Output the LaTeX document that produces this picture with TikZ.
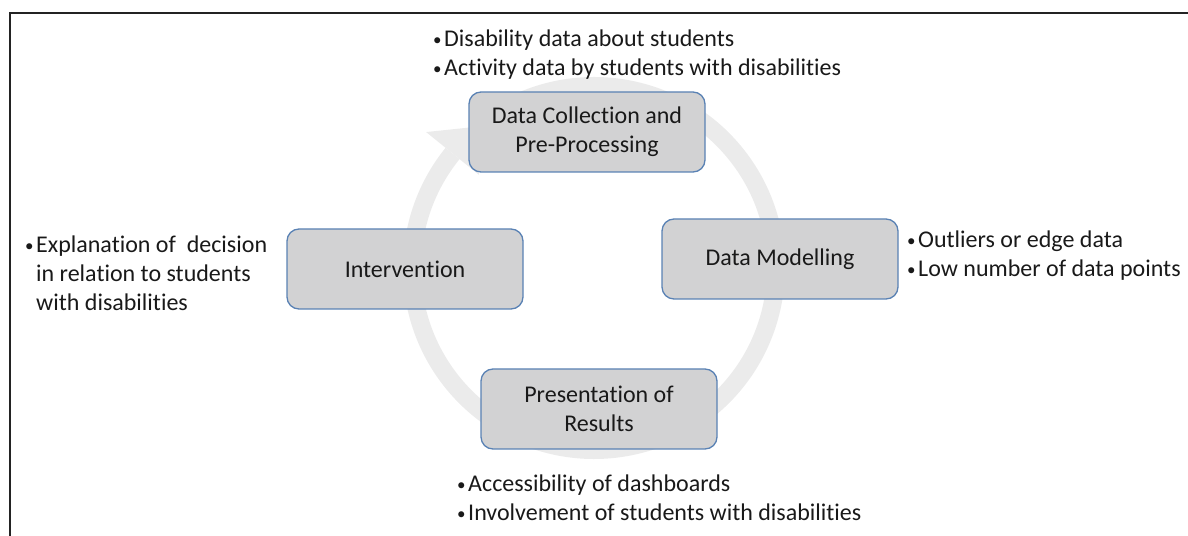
\documentclass[tikz,border=0pt]{standalone}
\usepackage{fontspec}
\setmainfont{Carlito}[Ligatures=NoCommon]
\usetikzlibrary{calc}
\definecolor{boxgray}{RGB}{210,210,211}
\definecolor{boxblue}{RGB}{90,130,180}
\definecolor{bandgray}{RGB}{235,235,235}
\definecolor{framecol}{RGB}{35,35,35}
\tikzset{
  stage/.style={draw=boxblue,fill=boxgray,line width=1.3bp,rounded corners=12bp,
    minimum width=236bp,minimum height=80bp,align=center,inner sep=2bp},
  note/.style={anchor=base west,inner sep=0pt,align=left},
  band/.style={draw=bandgray,line width=18bp}
}
\newcommand{\bul}{\makebox[11bp][l]{\raisebox{1.5bp}{\fontsize{17bp}{17bp}\selectfont•}}}
\begin{document}
\begin{tikzpicture}[font=\fontsize{24bp}{29bp}\selectfont,text=black!90]
  \useasboundingbox (0bp,0bp) rectangle (1188bp,536bp);
  \draw[framecol,line width=2.2bp] (10bp,0bp) -- (10bp,523bp) -- (1188bp,523bp);
  \coordinate (ctr) at (594bp,268bp);
  % circular arrow behind the stages
  \draw[band] ($(ctr)+(128:182bp)$) arc[start angle=128,end angle=-219,radius=182bp];
  \fill[bandgray] ($(ctr)+(141:148bp)$) -- ($(ctr)+(141:216bp)$)
    -- ($(ctr)+(141:182bp)+(51:34bp)$) -- cycle;
  \node (DataColl) at (587bp,404bp) [stage] {Data Collection and\\Pre-Processing};
  \node (DataMod) at (780bp,277bp) [stage] {Data Modelling};
  \node (Pres) at (599bp,127bp) [stage] {Presentation of\\Results};
  \node (Interv) at (405bp,267bp) [stage] {Intervention};
  \node (DataCollNote) at (433bp,489bp) [note]
    {\begin{tabular}[t]{@{}l@{}l@{}}\bul&Disability data about students\\
     \bul&Activity data by students with disabilities\end{tabular}};
  \node (DataModNote) at (907bp,288bp) [note]
    {\begin{tabular}[t]{@{}l@{}l@{}}\bul&Outliers or edge data\\
     \bul&Low number of data points\end{tabular}};
  \node (PresNote) at (457bp,44bp) [note]
    {\begin{tabular}[t]{@{}l@{}l@{}}\bul&Accessibility of dashboards\\
     \bul&Involvement of students with disabilities\end{tabular}};
  \node (IntervNote) at (25bp,283bp) [note]
    {\begin{tabular}[t]{@{}l@{}l@{}}\bul&Explanation of\ \ decision\\
     &in relation to students\\ &with disabilities\end{tabular}};
\end{tikzpicture}
\end{document}
